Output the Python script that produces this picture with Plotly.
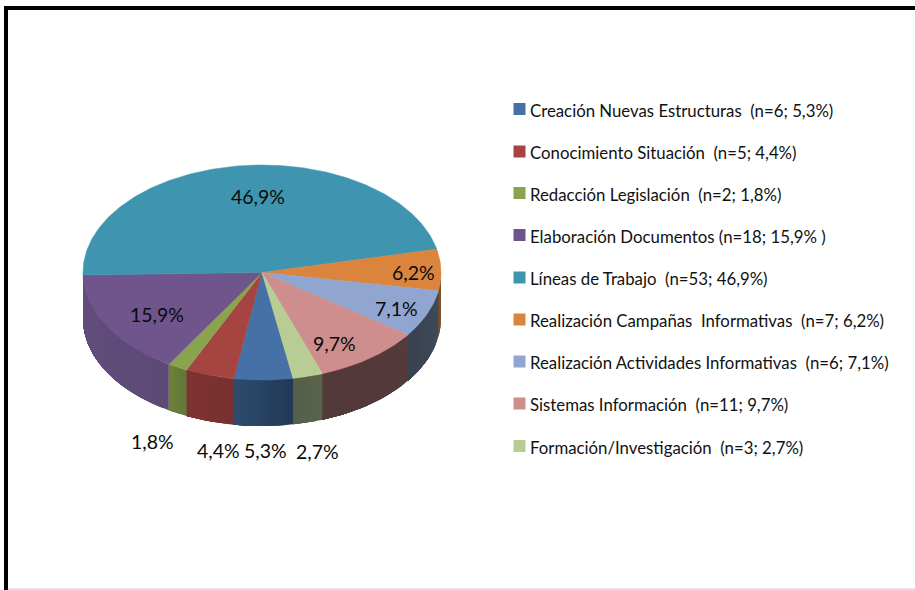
import numpy as np
import plotly.graph_objects as go

categories = ["Creación Nuevas Estructuras", "Conocimiento Situación", "Redacción Legislación",
              "Elaboración Documentos", "Líneas de Trabajo", "Realización Campañas Informativas",
              "Realización Actividades Informativas", "Sistemas Información", "Formación/Investigación"]
percent = [5.3, 4.4, 1.8, 15.9, 46.9, 6.2, 7.1, 9.7, 2.7]
legend_labels = ["Creación Nuevas Estructuras  (n=6; 5,3%)", "Conocimiento Situación  (n=5; 4,4%)",
                 "Redacción Legislación  (n=2; 1,8%)", "Elaboración Documentos (n=18; 15,9% )",
                 "Líneas de Trabajo  (n=53; 46,9%)", "Realización Campañas  Informativas  (n=7; 6,2%)",
                 "Realización Actividades Informativas  (n=6; 7,1%)", "Sistemas Información  (n=11; 9,7%)",
                 "Formación/Investigación  (n=3; 2,7%)"]
value_labels = ["5,3%", "4,4%", "1,8%", "15,9%", "46,9%", "6,2%", "7,1%", "9,7%", "2,7%"]

top_colors = ["#4571a6", "#a64442", "#89a34e", "#6f558b", "#3f95af", "#db843d", "#90a5cf", "#cd8e8d", "#b8cd93"]
side_a = ["#223a57", "#783130", "#65783a", "#5d4a75", "#3f95af", "#8a5a2c", "#3e4a5a", "#553a3b", "#59624a"]
side_b = ["#2e4b6e", "#7d3331", "#6c8038", "#624e7c", "#3f95af", "#7d4a26", "#39424f", "#53393a", "#55604a"]

CX, CY, RX, RY, DEPTH = 262, 272.5, 179, 107.5, 46
START_DEG = 170
label_x = [265, 218, 152, 157, 258, 413, 396, 334, 317]
label_y = [450, 450, 441, 314, 196, 272, 308, 343, 451]
legend_x_marker, legend_x_text = 519.5, 528
legend_y = [110, 152.5, 194, 236, 278.5, 320.5, 362.5, 404.5, 447]
FONT = "Lato, Liberation Sans"


def ell(deg, dy=0.0):
    a = np.radians(deg)
    return CX + RX * np.sin(a), CY - RY * np.cos(a) + dy


def mix(c1, c2, t):
    a = [int(c1[i:i + 2], 16) for i in (1, 3, 5)]
    b = [int(c2[i:i + 2], 16) for i in (1, 3, 5)]
    return "rgb(%d,%d,%d)" % tuple(round(p + (q - p) * t) for p, q in zip(a, b))


edges = START_DEG + np.concatenate([[0], np.cumsum(percent)]) * 3.6
fig = go.Figure()

# side walls: only the front half (90..270 degrees clockwise from the top) is visible
order = []
for i in range(len(percent)):
    lo, hi = edges[i], edges[i + 1]
    if lo >= 360:
        lo, hi = lo - 360, hi - 360
    lo, hi = max(lo, 90.0), min(hi, 270.0)
    if hi > lo:
        order.append((lo, hi, i))
for lo, hi, i in sorted(order):
    steps = max(1, int((hi - lo) / 2))
    cuts = np.linspace(lo, hi, steps + 1)
    # each strip runs to the far end of its slice so that no seam shows between strips
    for k in range(steps):
        th = np.linspace(cuts[k], hi, 24)
        x1, y1 = ell(th)
        x2, y2 = ell(th[::-1], DEPTH)
        col = mix(side_a[i], side_b[i], k / max(1, steps - 1))
        fig.add_trace(go.Scatter(x=np.r_[x1, x2, x1[0]], y=np.r_[y1, y2, y1[0]], mode="lines",
                                 fill="toself", fillcolor=col, line=dict(width=0),
                                 hoverinfo="skip", showlegend=False))

# top faces
for i in range(len(percent)):
    th = np.linspace(edges[i], edges[i + 1], max(4, int(percent[i] * 4)))
    x, y = ell(th)
    fig.add_trace(go.Scatter(x=np.r_[CX, x, CX], y=np.r_[CY, y, CY], mode="lines", fill="toself",
                             fillcolor=top_colors[i], line=dict(color=top_colors[i], width=0.5),
                             name=categories[i], text=legend_labels[i], hoverinfo="text", showlegend=False))

# legend swatches
fig.add_trace(go.Scatter(x=[legend_x_marker] * len(legend_y), y=[v - 1 for v in legend_y], mode="markers",
                         marker=dict(symbol="square", size=12, color=top_colors), hoverinfo="skip",
                         showlegend=False))

ann = []
for t, y in zip(legend_labels, legend_y):
    ann.append(dict(x=legend_x_text, y=y, text=t, xanchor="left", yanchor="middle", showarrow=False,
                    font=dict(family=FONT, size=16.8, color="#111111")))
for t, x, y in zip(value_labels, label_x, label_y):
    ann.append(dict(x=x, y=y, text=t, xanchor="center", yanchor="middle", showarrow=False,
                    font=dict(family=FONT, size=19.5, color="#0a0a0a")))

shapes = [
    dict(type="rect", x0=4, x1=915, y0=6, y1=10, fillcolor="black", line_width=0, layer="above"),
    dict(type="rect", x0=4, x1=8, y0=6, y1=590, fillcolor="black", line_width=0, layer="above"),
    dict(type="rect", x0=8, x1=915, y0=588, y1=590, fillcolor="#e4e4e4", line_width=0, layer="above"),
]

fig.update_layout(
    width=915, height=590, margin=dict(l=0, r=0, t=0, b=0), paper_bgcolor="white", plot_bgcolor="white",
    xaxis=dict(range=[0, 915], visible=False, fixedrange=True),
    yaxis=dict(range=[590, 0], visible=False, fixedrange=True),
    annotations=ann, shapes=shapes, showlegend=False,
)
fig.write_html("out.html", config=dict(displayModeBar=False),
               post_script="document.body.style.margin='0';document.body.style.overflow='hidden';")
